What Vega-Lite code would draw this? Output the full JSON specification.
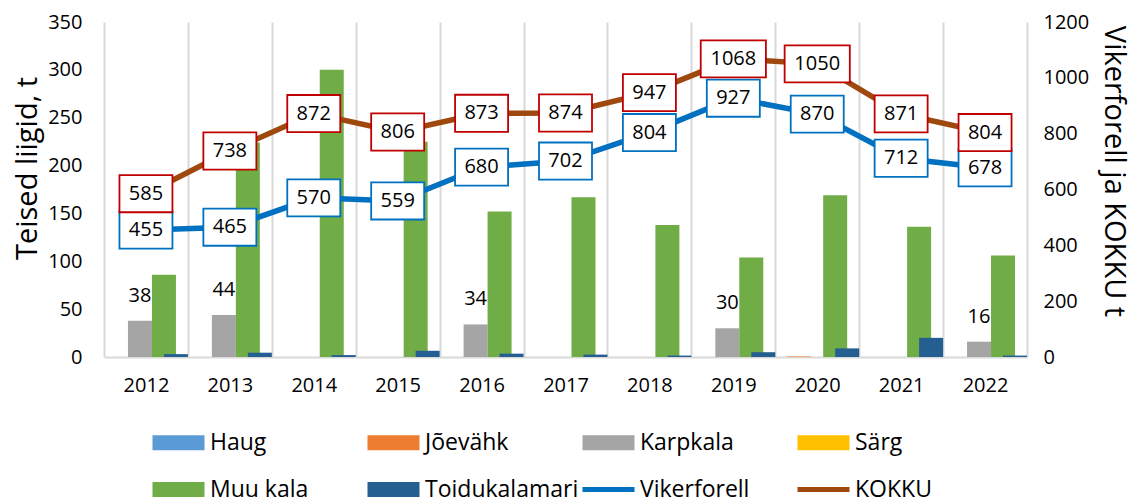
{
  "$schema": "https://vega.github.io/schema/vega-lite/v6.json",
  "width": 923,
  "height": 335,
  "autosize": {"type": "none"},
  "padding": {"left": 104, "top": 22, "right": 110, "bottom": 146},
  "background": "white",
  "config": {
    "font": "Open Sans",
    "view": {"stroke": null},
    "axis": {"labelColor": "#000000", "titleColor": "#000000", "labelFontSize": 20, "titleFontSize": 29, "titleFontWeight": "normal", "ticks": false}
  },
  "datasets": {
    "bars": [
      {"year": "2012", "series": "Karpkala", "value": 38},
      {"year": "2013", "series": "Karpkala", "value": 44},
      {"year": "2016", "series": "Karpkala", "value": 34},
      {"year": "2019", "series": "Karpkala", "value": 30},
      {"year": "2022", "series": "Karpkala", "value": 16},
      {"year": "2020", "series": "Jõevähk", "value": 0.6},
      {"year": "2012", "series": "Muu kala", "value": 86},
      {"year": "2013", "series": "Muu kala", "value": 224},
      {"year": "2014", "series": "Muu kala", "value": 300},
      {"year": "2015", "series": "Muu kala", "value": 225},
      {"year": "2016", "series": "Muu kala", "value": 152},
      {"year": "2017", "series": "Muu kala", "value": 167},
      {"year": "2018", "series": "Muu kala", "value": 138},
      {"year": "2019", "series": "Muu kala", "value": 104},
      {"year": "2020", "series": "Muu kala", "value": 169},
      {"year": "2021", "series": "Muu kala", "value": 136},
      {"year": "2022", "series": "Muu kala", "value": 106},
      {"year": "2012", "series": "Toidukalamari", "value": 3},
      {"year": "2013", "series": "Toidukalamari", "value": 4.5},
      {"year": "2014", "series": "Toidukalamari", "value": 2},
      {"year": "2015", "series": "Toidukalamari", "value": 6.5},
      {"year": "2016", "series": "Toidukalamari", "value": 3.5},
      {"year": "2017", "series": "Toidukalamari", "value": 2.5},
      {"year": "2018", "series": "Toidukalamari", "value": 1.5},
      {"year": "2019", "series": "Toidukalamari", "value": 5},
      {"year": "2020", "series": "Toidukalamari", "value": 9},
      {"year": "2021", "series": "Toidukalamari", "value": 20},
      {"year": "2022", "series": "Toidukalamari", "value": 1.5}
    ],
    "lines": [
      {"year": "2012", "series": "Vikerforell", "value": 455},
      {"year": "2013", "series": "Vikerforell", "value": 465},
      {"year": "2014", "series": "Vikerforell", "value": 570},
      {"year": "2015", "series": "Vikerforell", "value": 559},
      {"year": "2016", "series": "Vikerforell", "value": 680},
      {"year": "2017", "series": "Vikerforell", "value": 702},
      {"year": "2018", "series": "Vikerforell", "value": 804},
      {"year": "2019", "series": "Vikerforell", "value": 927},
      {"year": "2020", "series": "Vikerforell", "value": 870},
      {"year": "2021", "series": "Vikerforell", "value": 712},
      {"year": "2022", "series": "Vikerforell", "value": 678},
      {"year": "2012", "series": "KOKKU", "value": 585},
      {"year": "2013", "series": "KOKKU", "value": 738},
      {"year": "2014", "series": "KOKKU", "value": 872},
      {"year": "2015", "series": "KOKKU", "value": 806},
      {"year": "2016", "series": "KOKKU", "value": 873},
      {"year": "2017", "series": "KOKKU", "value": 874},
      {"year": "2018", "series": "KOKKU", "value": 947},
      {"year": "2019", "series": "KOKKU", "value": 1068},
      {"year": "2020", "series": "KOKKU", "value": 1050},
      {"year": "2021", "series": "KOKKU", "value": 871},
      {"year": "2022", "series": "KOKKU", "value": 804}
    ]
  },
  "encoding": {
    "x": {
      "field": "year",
      "type": "ordinal",
      "scale": {"paddingInner": 0, "paddingOuter": 0},
      "axis": {"title": null, "labelAngle": 0, "grid": true, "gridColor": "#D9D9D9", "gridWidth": 2, "tickBand": "extent", "domainColor": "#D9D9D9", "domainWidth": 2, "labelPadding": 18}
    }
  },
  "layer": [
    {
      "data": {"name": "bars"},
      "encoding": {
        "xOffset": {"field": "series", "type": "nominal", "scale": {"domain": ["Haug", "Jõevähk", "Karpkala", "Särg", "Muu kala", "Toidukalamari"], "paddingInner": 0, "paddingOuter": 0.5}},
        "y": {
          "field": "value",
          "type": "quantitative",
          "scale": {"domain": [0, 350]},
          "axis": {"orient": "left", "title": "Teised liigid, t", "titleY": 146, "values": [0, 50, 100, 150, 200, 250, 300, 350], "domain": false, "grid": false, "labelPadding": 22, "titlePadding": 5}
        }
      },
      "layer": [
        {
          "mark": {"type": "bar", "width": 24},
          "encoding": {
            "color": {
              "field": "series",
              "type": "nominal",
              "scale": {
                "domain": ["Haug", "Jõevähk", "Karpkala", "Särg", "Muu kala", "Toidukalamari", "Vikerforell", "KOKKU"],
                "range": ["#5B9BD5", "#ED7D31", "#A5A5A5", "#FFC000", "#70AD47", "#255E91", "#0070C0", "#9E480E"]
              },
              "legend": {
                "title": null,
                "orient": "none",
                "legendX": 63,
                "legendY": 409,
                "columns": 4,
                "direction": "horizontal",
                "labelFontSize": 23,
                "labelColor": "#000000",
                "labelLimit": 300,
                "symbolSize": 2704,
                "symbolOffset": 0,
                "labelOffset": 20,
                "columnPadding": -7,
                "rowPadding": 23,
                "gridAlign": "all",
                "encode": {
                  "symbols": {
                    "update": {
                      "size": {"value": 2704},
                      "shape": {"signal": "indexof(['Vikerforell','KOKKU'], datum.value) >= 0 ? 'M-1,0H1' : 'M-1,-0.29H1V0.29H-1Z'"},
                      "fill": {"signal": "indexof(['Vikerforell','KOKKU'], datum.value) >= 0 ? 'transparent' : scale('color', datum.value)"},
                      "stroke": {"signal": "scale('color', datum.value)"},
                      "strokeWidth": {"signal": "indexof(['Vikerforell','KOKKU'], datum.value) >= 0 ? 5 : 0"},
                      "opacity": {"value": 1}
                    }
                  }
                }
              }
            }
          }
        },
        {
          "transform": [{"filter": "datum.series === 'Karpkala'"}],
          "mark": {"type": "text", "baseline": "bottom", "dy": -15, "fontSize": 20, "color": "#000000"},
          "encoding": {"text": {"field": "value", "type": "quantitative"}}
        }
      ]
    },
    {
      "data": {"name": "lines"},
      "encoding": {
        "y": {
          "field": "value",
          "type": "quantitative",
          "scale": {"domain": [0, 1200]},
          "axis": {"orient": "right", "title": "Vikerforell ja KOKKU t", "titleY": 149, "format": "d", "values": [0, 200, 400, 600, 800, 1000, 1200], "domain": false, "grid": false, "labelPadding": 16, "titlePadding": 10}
        }
      },
      "layer": [
        {
          "mark": {"type": "line", "strokeWidth": 5.5},
          "encoding": {"color": {"field": "series", "type": "nominal"}}
        },
        {
          "mark": {"type": "point", "filled": false, "fill": "white", "fillOpacity": 1, "opacity": 1, "size": 2809, "strokeWidth": 1.8},
          "encoding": {
            "shape": {"condition": {"test": "datum.value >= 1000", "value": "M-1.23,-0.7H1.23V0.7H-1.23Z"}, "value": "M-1,-0.7H1V0.7H-1Z"},
            "stroke": {"condition": {"test": "datum.series === 'KOKKU'", "value": "#C00000"}, "value": "#0070C0"}
          }
        },
        {
          "mark": {"type": "text", "fontSize": 20, "color": "#000000"},
          "encoding": {"text": {"field": "value", "type": "quantitative"}}
        }
      ]
    }
  ],
  "resolve": {"scale": {"y": "independent"}}
}
